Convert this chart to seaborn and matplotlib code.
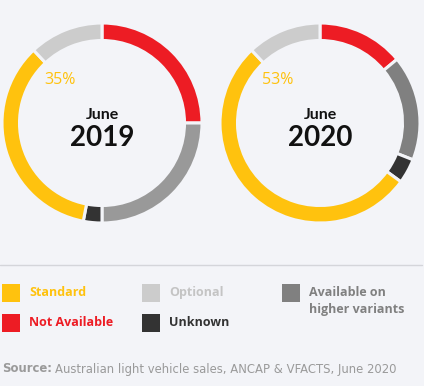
import matplotlib
matplotlib.use("Agg")
import matplotlib.pyplot as plt
import seaborn as sns

# data (share of vehicles, %), order clockwise from 12 o'clock
categories = ["Not Available", "Available on\nhigher variants", "Unknown", "Standard", "Optional"]
share_2019 = [25, 25, 3, 35, 12]
share_2020 = [14, 17, 4, 53, 12]
years = ["2019", "2020"]

sns.set_theme(style="white")
plt.rcParams["font.family"] = ["Lato", "DejaVu Sans"]

bg = "#f3f4f8"
yellow, red, light, mid, dark = "#ffc20e", "#ed1c24", "#cccccc", "#808080", "#333333"
colors_2019 = [red, "#999999", dark, yellow, light]
colors_2020 = [red, mid, dark, yellow, light]

W, H = 424, 386
fig = plt.figure(figsize=(W / 100, H / 100), dpi=100, facecolor=bg)


def px_axes(x, y, w, h):
    return fig.add_axes([x / W, 1 - (y + h) / H, w / W, h / H])


for i, (vals, cols, yr) in enumerate([(share_2019, colors_2019, years[0]),
                                       (share_2020, colors_2020, years[1])]):
    ax = px_axes(2 + i * 218, 23, 200, 200)
    ax.pie(vals, colors=cols, startangle=90, counterclock=False, radius=1,
           wedgeprops=dict(width=0.175, edgecolor=bg, linewidth=2.2))
    ax.set_xlim(-1, 1)
    ax.set_ylim(-1, 1)
    ax.set_facecolor(bg)
    ax.axis("off")
    ax.text(-0.42, 0.43, f"{vals[3]}%", color=yellow, fontsize=11.5,
            ha="center", va="center", family="Open Sans")
    ax.text(0, 0.08, "June", fontsize=11.5, fontweight="bold", ha="center", va="center",
            color="#111111")
    ax.text(0, -0.15, yr, fontsize=20, fontweight="bold", ha="center", va="center",
            color="#111111")

# legend / footer area
lax = px_axes(0, 0, W, H)
lax.set_xlim(0, W)
lax.set_ylim(H, 0)
lax.axis("off")
lax.plot([0, 422], [264.5, 264.5], color="#d4d5da", lw=1)

legend_items = [
    ("Standard", yellow, yellow, 2, 284),
    ("Not Available", red, red, 2, 314),
    ("Optional", light, "#c4c4c4", 142, 284),
    ("Unknown", dark, dark, 142, 314),
    ("Available on\nhigher variants", mid, mid, 282, 284),
]
for label, fc, tc, x, y in legend_items:
    lax.add_patch(plt.Rectangle((x, y), 18, 18, color=fc, lw=0))
    lax.text(x + 27, y + 2, label, color=tc, fontsize=9, fontweight="bold",
             va="top", ha="left", linespacing=1.45, family="Open Sans")

t = lax.text(2, 369, "Source:", color="#9a9a9a", fontsize=8.4, fontweight="bold",
             va="center", ha="left", family="DejaVu Sans")
fig.canvas.draw()
bb = t.get_window_extent()
lax.text(2 + bb.width + 3, 369, "Australian light vehicle sales, ANCAP & VFACTS, June 2020",
         color="#9a9a9a", fontsize=8.4, va="center", ha="left", family="DejaVu Sans")

fig.savefig("out.png", dpi=100, facecolor=bg)
